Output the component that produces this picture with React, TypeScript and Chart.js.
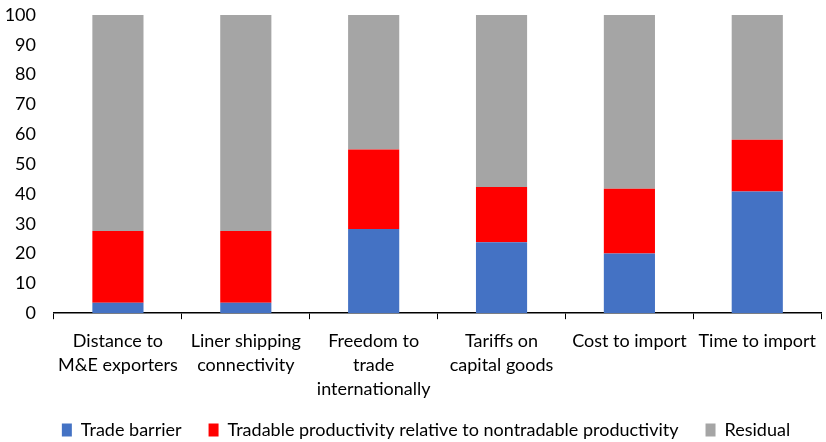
import React, { useEffect, useRef } from "react";
import { Chart, registerables } from "chart.js";

Chart.register(...registerables);

const categories: string[][] = [
  ["Distance to", "M&E exporters"],
  ["Liner shipping", "connectivity"],
  ["Freedom to", "trade", "internationally"],
  ["Tariffs on", "capital goods"],
  ["Cost to import"],
  ["Time to import"],
];

const tradeBarrier = [3.5, 3.5, 28.2, 23.8, 20.0, 40.8];
const tradableProductivity = [24.1, 24.1, 26.7, 18.5, 21.7, 17.4];
const residual = [72.4, 72.4, 45.1, 57.7, 58.3, 41.8];

const yTicks = [0, 10, 20, 30, 40, 50, 60, 70, 80, 90, 100];

const FONT = "Lato, 'Open Sans', sans-serif";

// Nudges the legend box after layout so it sits a little higher and right.
const legendNudge = {
  id: "legendNudge",
  afterLayout(chart: any) {
    const lg = chart.legend;
    if (!lg) return;
    const dx = 13;
    const dy = -17;
    lg.left += dx;
    lg.right += dx;
    lg.top += dy;
    lg.bottom += dy;
  },
};

export default function App() {
  const ref = useRef<HTMLCanvasElement | null>(null);

  useEffect(() => {
    document.body.style.margin = "0";
    if (!ref.current) return;
    const chart = new Chart(ref.current, {
      type: "bar",
      data: {
        labels: categories,
        datasets: [
          {
            label: "Trade barrier",
            data: tradeBarrier,
            backgroundColor: "#4472C4",
          },
          {
            label: "Tradable productivity relative to nontradable productivity",
            data: tradableProductivity,
            backgroundColor: "#FF0000",
          },
          {
            label: "Residual",
            data: residual,
            backgroundColor: "#A5A5A5",
          },
        ],
      },
      options: {
        animation: false,
        responsive: false,
        layout: { padding: { top: 15, right: 0, left: 0, bottom: -24 } },
        datasets: { bar: { barPercentage: 0.4, categoryPercentage: 1 } },
        plugins: {
          tooltip: { enabled: false },
          legend: {
            position: "bottom",
            labels: {
              boxWidth: 10,
              boxHeight: 13,
              padding: 27,
              color: "#000",
              font: { family: FONT, size: 18 },
            },
          },
        },
        scales: {
          x: {
            stacked: true,
            grid: {
              display: true,
              drawOnChartArea: false,
              drawTicks: true,
              tickLength: 6,
              color: "#000",
              offset: true,
            },
            border: { display: true, color: "#000", width: 1.5 },
            ticks: {
              color: "#000",
              padding: 10,
              font: { family: FONT, size: 18, lineHeight: 1.33 },
              maxRotation: 0,
              autoSkip: false,
            },
          },
          y: {
            stacked: true,
            min: 0,
            max: 100,
            afterBuildTicks: (axis: any) => {
              axis.ticks = yTicks.map((v) => ({ value: v }));
            },
            afterFit: (axis: any) => {
              axis.width = 54;
              axis.paddingTop = 0;
              axis.paddingBottom = 0;
            },
            grid: { display: false, drawTicks: false },
            border: { display: false },
            ticks: {
              color: "#000",
              padding: 18,
              font: { family: FONT, size: 18 },
            },
          },
        },
      },
      plugins: [legendNudge],
    });
    return () => chart.destroy();
  }, []);

  return (
    <div style={{ position: "relative", width: 826, height: 442 }}>
      <canvas ref={ref} width={826} height={442} />
    </div>
  );
}
